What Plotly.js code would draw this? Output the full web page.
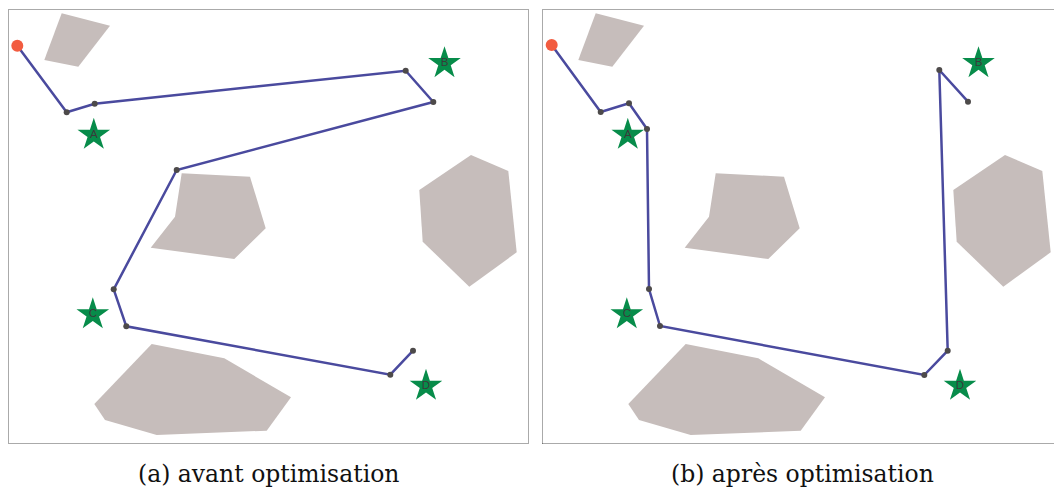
<!DOCTYPE html>
<html>
<head>
<meta charset="utf-8">
<script src="https://cdn.plot.ly/plotly-3.0.1.min.js"></script>
<style>html,body{margin:0;padding:0;background:#fff;}#chart{width:1054px;height:488px;}</style>
</head>
<body>
<div id="chart"></div>
<script>
// Map coordinates (units: map cells, origin top-left of each panel)
const obstacle1X = [53.7, 102, 70.3, 36.3];
const obstacle1Y = [3.3, 15.7, 56.7, 50];
const obstacle2X = [173.7, 242, 257.7, 226.3, 142.7, 167];
const obstacle2Y = [163.3, 166.7, 218.3, 249, 237.7, 206.7];
const obstacle3X = [463, 500.3, 508.7, 461.3, 414.7, 411.3];
const obstacle3Y = [145, 161, 242.3, 276.7, 231.7, 180];
const obstacle4X = [143.7, 216.3, 283, 258.7, 148.7, 97, 86.3];
const obstacle4Y = [334, 348.3, 387.3, 420.7, 425, 410, 394];

const goalLabels = ["A", "B", "C", "D"];
const goalX = [85.8, 436.5, 84.8, 418];
const goalY = [125, 53.3, 304.5, 376];

const pathBeforeX = [9.3, 58.7, 86.7, 397.7, 425.3, 168.7, 105.7, 118.3, 382.3, 405];
const pathBeforeY = [35.7, 102.3, 93.7, 60.7, 92, 160, 279.3, 316.3, 364.7, 340.7];
const pathAfterX = [9.7, 58.7, 87, 105, 107, 118, 382.3, 405.7, 397.3, 426];
const pathAfterY = [35, 102, 93.3, 119, 279, 316, 365, 340.7, 60, 91.7];

const captions = ["(a) avant optimisation", "(b) après optimisation"];

const obstacles = [[obstacle1X, obstacle1Y], [obstacle2X, obstacle2Y], [obstacle3X, obstacle3Y], [obstacle4X, obstacle4Y]];
const traces = [];
function addPanel(xa, ya, px, py) {
  obstacles.forEach(([ox, oy]) => {
    traces.push({x: ox.concat([ox[0]]), y: oy.concat([oy[0]]), xaxis: xa, yaxis: ya, mode: 'lines',
      fill: 'toself', fillcolor: '#c6bdbb', line: {width: 0, color: 'rgba(0,0,0,0)'}, hoverinfo: 'skip'});
  });
  traces.push({x: px, y: py, xaxis: xa, yaxis: ya, mode: 'lines+markers', cliponaxis: false,
    line: {color: '#4a4a9e', width: 2.5}, marker: {color: '#4d4a4a', size: 6}});
  traces.push({x: [px[0]], y: [py[0]], xaxis: xa, yaxis: ya, mode: 'markers', cliponaxis: false,
    marker: {color: '#f25c40', size: 12}});
  traces.push({x: goalX, y: goalY, xaxis: xa, yaxis: ya, mode: 'markers+text', text: goalLabels,
    textposition: 'middle center', cliponaxis: false,
    textfont: {family: 'Liberation Sans, Arial, sans-serif', size: 11.5, color: '#3a3a3a'},
    marker: {symbol: 'star', color: '#078c4a', size: 24.5, line: {width: 0}}});
}
addPanel('x', 'y', pathBeforeX, pathBeforeY);
addPanel('x2', 'y2', pathAfterX, pathAfterY);

const W = 1054, H = 488;
const yDom = [45 / H, 478 / H];
const border = {color: '#555555', width: 1, dash: '1px,1px'};
const layout = {
  width: W, height: H, margin: {l: 0, r: 0, t: 0, b: 0},
  paper_bgcolor: '#fff', plot_bgcolor: 'rgba(0,0,0,0)', showlegend: false,
  xaxis: {domain: [8 / W, 528 / W], range: [0, 520], visible: false, fixedrange: true},
  yaxis: {domain: yDom, range: [433, 0], visible: false, fixedrange: true},
  xaxis2: {domain: [542 / W, 1], range: [0, 512], visible: false, fixedrange: true},
  yaxis2: {domain: yDom, range: [433, 0], visible: false, fixedrange: true, anchor: 'x2'},
  shapes: [
    {type: 'rect', xref: 'paper', yref: 'paper', x0: 8.5 / W, x1: 528.5 / W, y0: (45 - 0.5) / H, y1: (478 + 0.5) / H, line: border},
    {type: 'rect', xref: 'paper', yref: 'paper', x0: 542.5 / W, x1: 1062 / W, y0: (45 - 0.5) / H, y1: (478 + 0.5) / H, line: border}
  ],
  annotations: [
    {text: captions[0], xref: 'paper', yref: 'paper', x: 268 / W, y: 1 - 474 / H, xanchor: 'center', yanchor: 'middle',
      showarrow: false, font: {family: 'DejaVu Serif, serif', size: 23.5, color: '#111'}},
    {text: captions[1], xref: 'paper', yref: 'paper', x: 802 / W, y: 1 - 474 / H, xanchor: 'center', yanchor: 'middle',
      showarrow: false, font: {family: 'DejaVu Serif, serif', size: 23.5, color: '#111'}}
  ]
};
Plotly.newPlot('chart', traces, layout, {staticPlot: true, displayModeBar: false});
</script>
</body>
</html>
